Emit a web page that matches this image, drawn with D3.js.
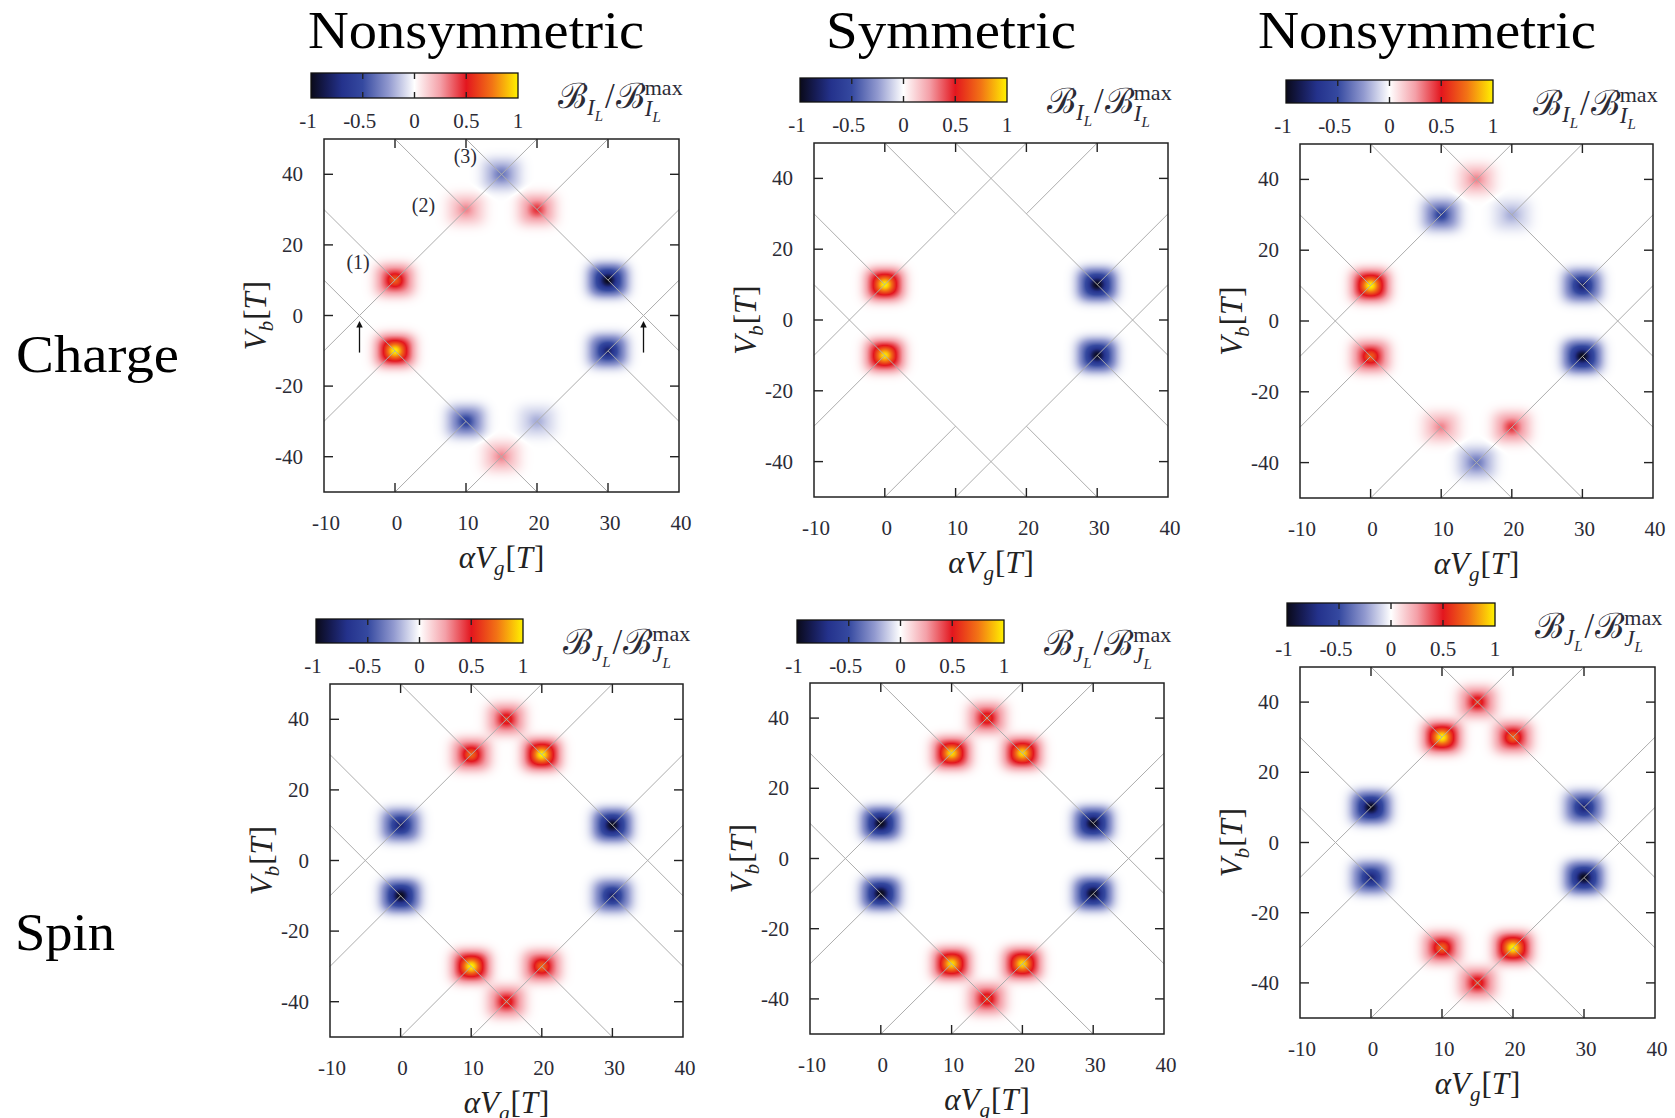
<!DOCTYPE html>
<meta charset="utf-8">
<script src="https://d3js.org/d3.v7.min.js"></script>
<style>
	body{margin:0;background:#fff;}
	svg{display:block;font-family:'Liberation Serif','DejaVu Serif',serif;}
	.tick{fill:#2b2b36;font-size:21px;}
</style>
<div id="chart"></div>
<script>
var W = 1675, H = 1118

// where the spots sit: (alpha Vg , Vb)
var spotX = [0, 0, 30, 30, 10, 20, 15, 10, 20, 15]
var spotY = [10, -10, 10, -10, 30, 30, 40, -30, -30, -40]

// normalised peak value of every spot, one list per panel
var chargeNonsymLeft  = [0.68, 1.0, -1.0, -0.8, 0.3, 0.45, -0.35, -0.55, -0.2, 0.3]
var chargeSym         = [1.0, 0.97, -1.0, -0.97, 0, 0, 0, 0, 0, 0]
var chargeNonsymRight = [1.0, 0.68, -0.8, -1.0, -0.55, -0.2, 0.3, 0.3, 0.45, -0.35]
var spinNonsymLeft    = [-0.78, -1.0, -1.0, -0.78, 0.7, 1.0, 0.58, 1.0, 0.7, 0.58]
var spinSym           = [-1.0, -1.0, -1.0, -1.0, 0.95, 0.95, 0.6, 0.95, 0.95, 0.6]
var spinNonsymRight   = [-1.0, -0.78, -0.78, -1.0, 1.0, 0.7, 0.58, 0.7, 1.0, 0.58]

var xTicks = [-10, 0, 10, 20, 30, 40]
var yTicks = [-40, -20, 0, 20, 40]
var cbTicks = [-1, -0.5, 0, 0.5, 1]
var cbInnerTicks = [-0.5, 0, 0.5]

// palette
var cmapStops  = [-1, -0.85, -0.7, -0.5, -0.25, 0, 0.25, 0.5, 0.75, 1]
var cmapColors = ["#0a0a1a", "#161c55", "#24328c", "#3549a0", "#9199cf", "#ffffff", "#f4a0a8", "#e3161e", "#f27415", "#fff200"]

// gray diamond edges [x1,y1,x2,y2]
var diamondLines = [
	[-10, -10, 20, 50], [-10, 10, 20, -50], [10, -50, 40, 10], [10, 50, 40, -10],
	[-10, 30, 0, 10], [20, -30, 30, -50], [-10, -30, 0, -10], [20, 30, 30, 50],
	[0, 50, 10, 30], [30, -10, 40, -30], [0, -50, 10, -30], [30, 10, 40, 30]
]

// arrows and numbered labels (first panel)
var arrowX = [-5, 35]
var arrowY = [-10.5, -2.5]
var noteText = ["(1)", "(2)", "(3)"]
var noteX = [-5.2, 4, 9.9]
var noteY = [13.2, 29.2, 43.2]

var colTitles = ["Nonsymmetric", "Symmetric", "Nonsymmetric"]
var rowTitles = ["Charge", "Spin"]

var panels = [
	{vals: chargeNonsymLeft,  kind: "I", x0: 324, x1: 679,  y0: 139, y1: 492,  cb: [311, 518, 73, 98], notes: true},
	{vals: chargeSym,         kind: "I", x0: 814, x1: 1168, y0: 143, y1: 497,  cb: [800, 1007, 78, 102]},
	{vals: chargeNonsymRight, kind: "I", x0: 1300, x1: 1653, y0: 144, y1: 498, cb: [1286, 1493, 80, 103]},
	{vals: spinNonsymLeft,    kind: "J", x0: 330, x1: 683,  y0: 684, y1: 1037, cb: [316, 523, 619, 643]},
	{vals: spinSym,           kind: "J", x0: 810, x1: 1164, y0: 683, y1: 1034, cb: [797, 1004, 620, 643]},
	{vals: spinNonsymRight,   kind: "J", x0: 1300, x1: 1655, y0: 667, y1: 1018, cb: [1287, 1495, 603, 626]}
]

var cmap = d3.scaleLinear().domain(cmapStops).range(cmapColors).interpolate(d3.interpolateRgb).clamp(true)
var lut = d3.range(2001).map(function(i){ return d3.rgb(cmap(i/1000 - 1)) })

var svg = d3.select("#chart").append("svg").attr("width", W).attr("height", H)
svg.append("rect").attr("width", W).attr("height", H).attr("fill", "#fff")

var defs = svg.append("defs")
var grad = defs.append("linearGradient").attr("id", "cbGrad")
cmapStops.forEach(function(s, i){
	grad.append("stop").attr("offset", ((s + 1) / 2 * 100) + "%").attr("stop-color", cmapColors[i])
})
defs.append("marker").attr("id", "arr").attr("viewBox", "0 0 10 10").attr("refX", 5).attr("refY", 5)
	.attr("markerWidth", 5).attr("markerHeight", 7).attr("orient", "auto")
	.append("path").attr("d", "M0,0 L10,5 L0,10 z").attr("fill", "#111")

// titles
var titleX = [476, 951, 1427]
var titleW = [336, 250, 338]
colTitles.forEach(function(t, i){
	svg.append("text").attr("x", titleX[i]).attr("y", 48).attr("text-anchor", "middle")
		.attr("textLength", titleW[i]).attr("lengthAdjust", "spacingAndGlyphs")
		.style("font-size", "52px").text(t)
})
svg.append("text").attr("x", 16).attr("y", 372).attr("textLength", 163).attr("lengthAdjust", "spacingAndGlyphs")
	.style("font-size", "52px").text(rowTitles[0])
svg.append("text").attr("x", 15).attr("y", 950).attr("textLength", 100).attr("lengthAdjust", "spacingAndGlyphs")
	.style("font-size", "52px").text(rowTitles[1])

// math label made of pieces
function mathText(g, pieces){
	var cx = 0
	pieces.forEach(function(p){
		var t = g.append("text").attr("x", cx + (p.dx || 0)).attr("y", p.sh || 0)
			.style("font-size", p.s + "px").style("font-style", p.it ? "italic" : "normal")
			.text(p.t)
		var w = t.node().getComputedTextLength()
		if(!p.noAdv){ cx += w + (p.dx || 0) }
	})
	return cx
}

panels.forEach(function(p){
	var x = d3.scaleLinear().domain([-10, 40]).range([p.x0, p.x1])
	var y = d3.scaleLinear().domain([-50, 50]).range([p.y1, p.y0])
	var g = svg.append("g")

	// heat map of the spots
	var w = Math.round(p.x1 - p.x0), h = Math.round(p.y1 - p.y0)
	var canvas = document.createElement("canvas")
	canvas.width = w
	canvas.height = h
	var ctx = canvas.getContext("2d")
	var img = ctx.createImageData(w, h)
	for(var j = 0; j < h; j++){
		var vy = y.invert(p.y0 + j + 0.5)
		for(var i = 0; i < w; i++){
			var vx = x.invert(p.x0 + i + 0.5)
			var v = 0
			for(var k = 0; k < spotX.length; k++){
				var a = p.vals[k]
				if(!a) continue
				var dx = vx - spotX[k], dy = vy - spotY[k]
				if(Math.abs(dx) > 8 || Math.abs(dy) > 13) continue
				var tx = Math.abs(dx) / 2.7, ty = Math.abs(dy) / 4.6
				var plateau = Math.exp(-(tx * tx * tx) - (ty * ty * ty))
				var peak = Math.exp(-(dx * dx) / 1.2 - (dy * dy) / 4.2)
				v += a * (0.57 * plateau + 0.43 * peak)
			}
			v = Math.max(-1, Math.min(1, v))
			var c = lut[Math.round((v + 1) * 1000)]
			var o = (j * w + i) * 4
			img.data[o] = c.r; img.data[o + 1] = c.g; img.data[o + 2] = c.b; img.data[o + 3] = 255
		}
	}
	ctx.putImageData(img, 0, 0)
	g.append("image").attr("x", p.x0).attr("y", p.y0).attr("width", w).attr("height", h)
		.attr("preserveAspectRatio", "none").attr("href", canvas.toDataURL())

	// diamond edges
	g.append("g").selectAll("line").data(diamondLines).join("line")
		.attr("x1", function(d){ return x(d[0]) }).attr("y1", function(d){ return y(d[1]) })
		.attr("x2", function(d){ return x(d[2]) }).attr("y2", function(d){ return y(d[3]) })
		.attr("stroke", "#adadad").attr("stroke-width", 1)

	// ticks inward on all sides
	var tl = 9
	xTicks.slice(1, -1).forEach(function(t){
		g.append("line").attr("x1", x(t)).attr("x2", x(t)).attr("y1", p.y1).attr("y2", p.y1 - tl).attr("stroke", "#222").attr("stroke-width", 1.4)
		g.append("line").attr("x1", x(t)).attr("x2", x(t)).attr("y1", p.y0).attr("y2", p.y0 + tl).attr("stroke", "#222").attr("stroke-width", 1.4)
	})
	yTicks.forEach(function(t){
		g.append("line").attr("x1", p.x0).attr("x2", p.x0 + tl).attr("y1", y(t)).attr("y2", y(t)).attr("stroke", "#222").attr("stroke-width", 1.4)
		g.append("line").attr("x1", p.x1).attr("x2", p.x1 - tl).attr("y1", y(t)).attr("y2", y(t)).attr("stroke", "#222").attr("stroke-width", 1.4)
	})
	g.append("rect").attr("x", p.x0).attr("y", p.y0).attr("width", p.x1 - p.x0).attr("height", p.y1 - p.y0)
		.attr("fill", "none").attr("stroke", "#222").attr("stroke-width", 1.5)

	// tick labels
	g.selectAll(".xt").data(xTicks).join("text").attr("class", "tick")
		.attr("x", function(d){ return x(d) + 2 }).attr("y", p.y1 + 38).attr("text-anchor", "middle").text(function(d){ return d })
	g.selectAll(".yt").data(yTicks).join("text").attr("class", "tick")
		.attr("x", p.x0 - 21).attr("y", function(d){ return y(d) + 7 }).attr("text-anchor", "end").text(function(d){ return d })

	// axis labels
	var xl = g.append("g").style("fill", "#222")
	var xw = mathText(xl, [{t: "α", s: 31, it: true}, {t: "V", s: 31, it: true}, {t: "g", s: 21, it: true, sh: 7},
		{t: "[", s: 31, dx: 1}, {t: "T", s: 31, it: true}, {t: "]", s: 31, dx: 1}])
	xl.attr("transform", "translate(" + ((p.x0 + p.x1) / 2 - xw / 2) + "," + (p.y1 + 76) + ")")

	var yl = g.append("g").style("fill", "#222")
	var yw = mathText(yl, [{t: "V", s: 31, it: true}, {t: "b", s: 21, it: true, sh: 7},
		{t: "[", s: 31, dx: 1}, {t: "T", s: 31, it: true}, {t: "]", s: 31, dx: 1}])
	yl.attr("transform", "translate(" + (p.x0 - 58) + "," + ((p.y0 + p.y1) / 2 + yw / 2) + ") rotate(-90)")

	// colour bar
	var cb = p.cb
	var cx = d3.scaleLinear().domain([-1, 1]).range([cb[0], cb[1]])
	g.append("rect").attr("x", cb[0]).attr("y", cb[2]).attr("width", cb[1] - cb[0]).attr("height", cb[3] - cb[2])
		.attr("fill", "url(#cbGrad)").attr("stroke", "#111").attr("stroke-width", 1.3)
	cbInnerTicks.forEach(function(t){
		g.append("line").attr("x1", cx(t)).attr("x2", cx(t)).attr("y1", cb[2]).attr("y2", cb[2] + 6).attr("stroke", "#222").attr("stroke-width", 1.4)
		g.append("line").attr("x1", cx(t)).attr("x2", cx(t)).attr("y1", cb[3]).attr("y2", cb[3] - 6).attr("stroke", "#222").attr("stroke-width", 1.4)
	})
	g.selectAll(".ct").data(cbTicks).join("text").attr("class", "tick")
		.attr("x", function(d){ return cx(d) - (d < 0 ? 3 : 0) }).attr("y", cb[3] + 30).attr("text-anchor", "middle")
		.text(function(d){ return d })

	var cl = g.append("g").style("fill", "#2b2b36")
	mathText(cl, [{t: "ℬ", s: 35}, {t: p.kind, s: 23, it: true, sh: 7}, {t: "L", s: 15, it: true, sh: 13},
		{t: "/", s: 35, dx: 2}, {t: "ℬ", s: 35, dx: 1}, {t: "max", s: 22, sh: -13, noAdv: true},
		{t: p.kind, s: 23, it: true, sh: 8}, {t: "L", s: 15, it: true, sh: 14}])
	cl.attr("transform", "translate(" + (cb[1] + 40) + "," + (cb[2] + 35) + ")")

	if(p.notes){
		arrowX.forEach(function(a){
			g.append("line").attr("x1", x(a)).attr("x2", x(a)).attr("y1", y(arrowY[0])).attr("y2", y(arrowY[1]))
				.attr("stroke", "#111").attr("stroke-width", 1.3).attr("marker-end", "url(#arr)")
		})
		noteText.forEach(function(t, i){
			g.append("text").attr("x", x(noteX[i])).attr("y", y(noteY[i])).attr("text-anchor", "middle")
				.attr("class", "tick").style("font-size", "20px").text(t)
		})
	}
})
</script>
